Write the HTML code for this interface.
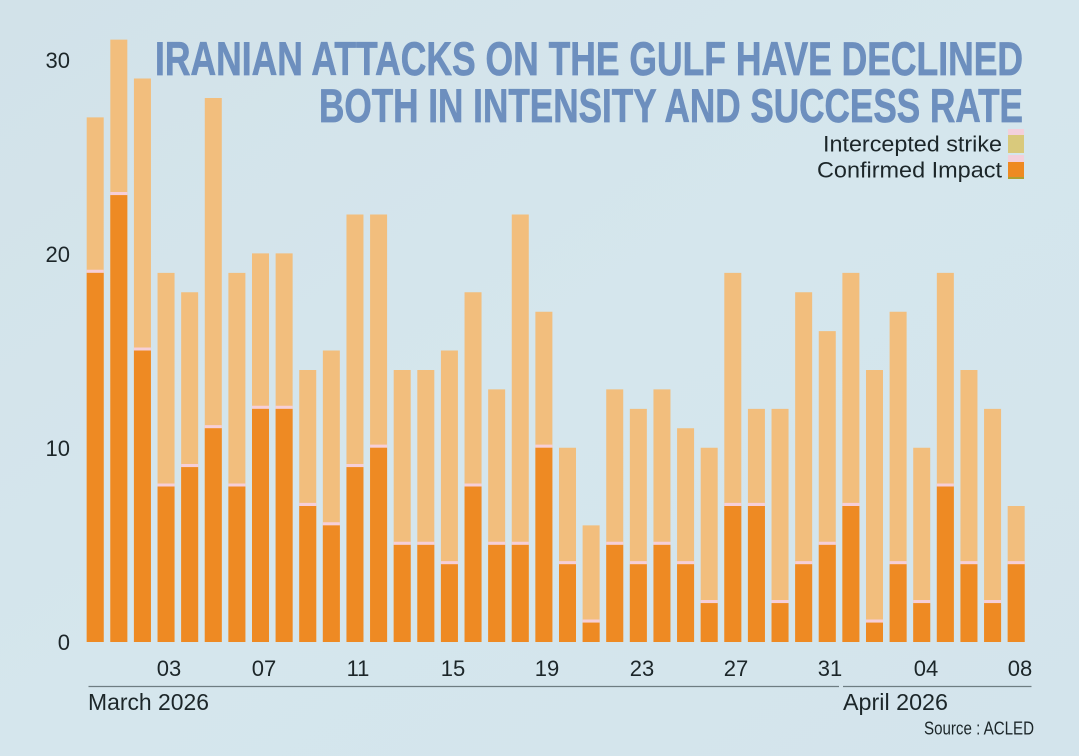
<!DOCTYPE html>
<html>
<head>
<meta charset="utf-8">
<style>
html,body{margin:0;padding:0}
body{width:1079px;height:756px;overflow:hidden;background:#d3e4eb}
svg{display:block}
</style>
</head>
<body>
<svg width="1079" height="756" viewBox="0 0 1079 756" xmlns="http://www.w3.org/2000/svg">
<defs>
<linearGradient id="bg" x1="0" y1="0" x2="1" y2="1">
<stop offset="0" stop-color="#d2e2e9"/>
<stop offset="0.5" stop-color="#d5e6ed"/>
<stop offset="1" stop-color="#d3e4ec"/>
</linearGradient>
</defs>
<rect x="0" y="0" width="1079" height="756" fill="url(#bg)"/>

<g font-family="'Liberation Sans', sans-serif" font-weight="bold" font-size="47" fill="#6d8fbe" stroke="#6d8fbe" stroke-width="0.7">
<text x="155" y="75" textLength="868" lengthAdjust="spacingAndGlyphs">IRANIAN ATTACKS ON THE GULF HAVE DECLINED</text>
<text x="319" y="122" textLength="704" lengthAdjust="spacingAndGlyphs">BOTH IN INTENSITY AND SUCCESS RATE</text>
</g>

<g font-family="'Liberation Sans', sans-serif" font-size="22" fill="#1c2629">
<text x="823" y="151.5" textLength="179" lengthAdjust="spacingAndGlyphs">Intercepted strike</text>
<text x="817" y="177.5" textLength="185" lengthAdjust="spacingAndGlyphs">Confirmed Impact</text>
</g>
<rect x="1008" y="129" width="16" height="6" fill="#f3d0dc"/>
<rect x="1008" y="135" width="16" height="18" fill="#d9c97c"/>
<rect x="1008" y="155" width="16" height="7" fill="#f3d0dc"/>
<rect x="1008" y="162" width="16" height="15" fill="#ee8a22"/>
<rect x="1008" y="177" width="16" height="2" fill="#b0a030"/>

<g font-family="'Liberation Sans', sans-serif" font-size="22" fill="#1c2629" text-anchor="end">
<text x="70" y="68">30</text>
<text x="70" y="262">20</text>
<text x="70" y="456">10</text>
<text x="70" y="650">0</text>
</g>

<g transform="translate(86.7,642) scale(23.615,-19.43)">
<path fill="#f2be7d" d="M0,0h.72v27h-.72zM1,0h.72v31h-.72zM2,0h.72v29h-.72zM3,0h.72v19h-.72zM4,0h.72v18h-.72zM5,0h.72v28h-.72zM6,0h.72v19h-.72zM7,0h.72v20h-.72zM8,0h.72v20h-.72zM9,0h.72v14h-.72zM10,0h.72v15h-.72zM11,0h.72v22h-.72zM12,0h.72v22h-.72zM13,0h.72v14h-.72zM14,0h.72v14h-.72zM15,0h.72v15h-.72zM16,0h.72v18h-.72zM17,0h.72v13h-.72zM18,0h.72v22h-.72zM19,0h.72v17h-.72zM20,0h.72v10h-.72zM21,0h.72v6h-.72zM22,0h.72v13h-.72zM23,0h.72v12h-.72zM24,0h.72v13h-.72zM25,0h.72v11h-.72zM26,0h.72v10h-.72zM27,0h.72v19h-.72zM28,0h.72v12h-.72zM29,0h.72v12h-.72zM30,0h.72v18h-.72zM31,0h.72v16h-.72zM32,0h.72v19h-.72zM33,0h.72v14h-.72zM34,0h.72v17h-.72zM35,0h.72v10h-.72zM36,0h.72v19h-.72zM37,0h.72v14h-.72zM38,0h.72v12h-.72zM39,0h.72v7h-.72z"/>
<path fill="#f6cfd8" d="M0,19h.72v.16h-.72zM1,23h.72v.16h-.72zM2,15h.72v.16h-.72zM3,8h.72v.16h-.72zM4,9h.72v.16h-.72zM5,11h.72v.16h-.72zM6,8h.72v.16h-.72zM7,12h.72v.16h-.72zM8,12h.72v.16h-.72zM9,7h.72v.16h-.72zM10,6h.72v.16h-.72zM11,9h.72v.16h-.72zM12,10h.72v.16h-.72zM13,5h.72v.16h-.72zM14,5h.72v.16h-.72zM15,4h.72v.16h-.72zM16,8h.72v.16h-.72zM17,5h.72v.16h-.72zM18,5h.72v.16h-.72zM19,10h.72v.16h-.72zM20,4h.72v.16h-.72zM21,1h.72v.16h-.72zM22,5h.72v.16h-.72zM23,4h.72v.16h-.72zM24,5h.72v.16h-.72zM25,4h.72v.16h-.72zM26,2h.72v.16h-.72zM27,7h.72v.16h-.72zM28,7h.72v.16h-.72zM29,2h.72v.16h-.72zM30,4h.72v.16h-.72zM31,5h.72v.16h-.72zM32,7h.72v.16h-.72zM33,1h.72v.16h-.72zM34,4h.72v.16h-.72zM35,2h.72v.16h-.72zM36,8h.72v.16h-.72zM37,4h.72v.16h-.72zM38,2h.72v.16h-.72zM39,4h.72v.16h-.72z"/>
<path fill="#ee8a23" d="M0,0h.72v19h-.72zM1,0h.72v23h-.72zM2,0h.72v15h-.72zM3,0h.72v8h-.72zM4,0h.72v9h-.72zM5,0h.72v11h-.72zM6,0h.72v8h-.72zM7,0h.72v12h-.72zM8,0h.72v12h-.72zM9,0h.72v7h-.72zM10,0h.72v6h-.72zM11,0h.72v9h-.72zM12,0h.72v10h-.72zM13,0h.72v5h-.72zM14,0h.72v5h-.72zM15,0h.72v4h-.72zM16,0h.72v8h-.72zM17,0h.72v5h-.72zM18,0h.72v5h-.72zM19,0h.72v10h-.72zM20,0h.72v4h-.72zM21,0h.72v1h-.72zM22,0h.72v5h-.72zM23,0h.72v4h-.72zM24,0h.72v5h-.72zM25,0h.72v4h-.72zM26,0h.72v2h-.72zM27,0h.72v7h-.72zM28,0h.72v7h-.72zM29,0h.72v2h-.72zM30,0h.72v4h-.72zM31,0h.72v5h-.72zM32,0h.72v7h-.72zM33,0h.72v1h-.72zM34,0h.72v4h-.72zM35,0h.72v2h-.72zM36,0h.72v8h-.72zM37,0h.72v4h-.72zM38,0h.72v2h-.72zM39,0h.72v4h-.72z"/>
</g>

<g font-family="'Liberation Sans', sans-serif" font-size="22" fill="#1c2629" text-anchor="middle">
<text x="169" y="676">03</text>
<text x="264" y="676">07</text>
<text x="358" y="676">11</text>
<text x="453" y="676">15</text>
<text x="547" y="676">19</text>
<text x="642" y="676">23</text>
<text x="736" y="676">27</text>
<text x="830" y="676">31</text>
<text x="926" y="676">04</text>
<text x="1020" y="676">08</text>
</g>

<line x1="88.5" y1="686.5" x2="839" y2="686.5" stroke="#6e7d82" stroke-width="1.3"/>
<line x1="843" y1="686.5" x2="1031.5" y2="686.5" stroke="#6e7d82" stroke-width="1.3"/>

<g font-family="'Liberation Sans', sans-serif" font-size="23" fill="#1c2629">
<text x="88" y="710" textLength="121" lengthAdjust="spacingAndGlyphs">March 2026</text>
<text x="843" y="710" textLength="105" lengthAdjust="spacingAndGlyphs">April 2026</text>
</g>
<text x="924" y="734.5" font-family="'Liberation Sans', sans-serif" font-size="18" fill="#1c2629" textLength="110" lengthAdjust="spacingAndGlyphs">Source : ACLED</text>
</svg>
</body>
</html>
